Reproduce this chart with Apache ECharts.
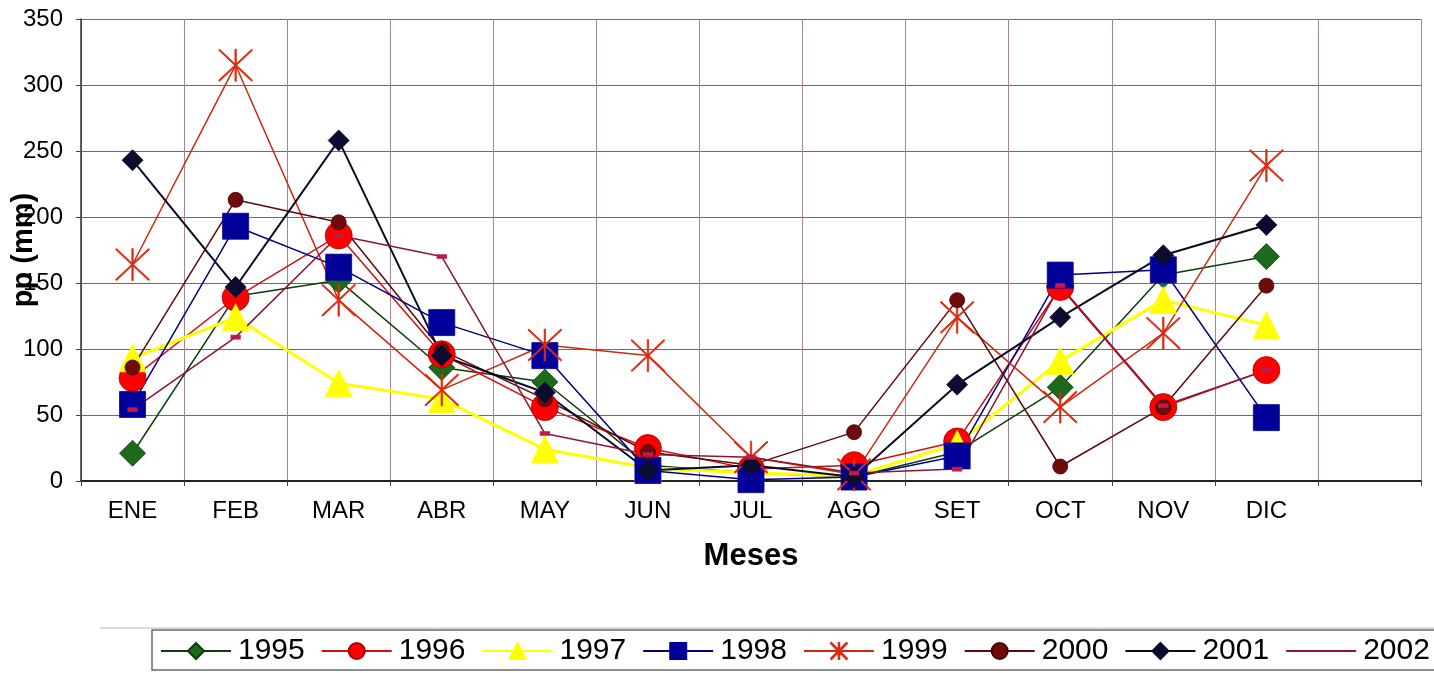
<!DOCTYPE html>
<html>
<head>
<meta charset="utf-8">
<title>Precipitación mensual 1995-2002</title>
<script src="https://cdn.jsdelivr.net/npm/echarts@6/dist/echarts.min.js"></script>
<style>
  html, body { margin: 0; padding: 0; background: #ffffff; }
  #chart { width: 1434px; height: 673px; }
</style>
</head>
<body>
<div id="chart"></div>
<script>
// Months (the last band is left empty, as in the original workbook)
const months = ['ENE', 'FEB', 'MAR', 'ABR', 'MAY', 'JUN', 'JUL', 'AGO', 'SET', 'OCT', 'NOV', 'DIC', ''];
const yTicks = { min: 0, max: 350, interval: 50 };

// Monthly precipitation (mm) per year
const y1995 = [21, 140, 152, 86, 75, 12, 6, 3, 22, 71, 156, 170];
const y1996 = [78, 139, 186, 96, 56, 25, 9, 12, 30, 147, 56, 84];
const y1997 = [93, 124, 74, 62, 24, 10, 6, 4, 28, 91, 137, 118];
const y1998 = [58, 193, 162, 120, 95, 8, 1, 3, 19, 156, 160, 48];
const y1999 = [164, 315, 137, 69, 103, 95, 18, 5, 124, 56, 112, 239];
const y2000 = [86, 213, 196, 99, 62, 22, 12, 37, 137, 11, 56, 148];
const y2001 = [243, 147, 258, 95, 67, 8, 12, 3, 73, 124, 171, 194];
const y2002 = [54, 109, 186, 170, 36, 20, 18, 6, 9, 148, 57, 84];

const FONT = '"Liberation Sans", Arial, sans-serif';

// Excel-style star marker: an X with a vertical stroke
const starPath = 'path://M48 0 L52 0 L52 100 L48 100 Z M3 0 L100 97 L97 100 L0 3 Z M97 0 L100 3 L3 100 L0 97 Z';

function lineSeries(name, data, o) {
  return {
    name: name,
    type: 'line',
    data: data,
    symbol: o.symbol,
    symbolSize: o.size,
    showAllSymbol: true,
    lineStyle: { color: o.line, width: o.width || 1.5 },
    itemStyle: { color: o.fill, borderColor: o.border || o.fill, borderWidth: o.borderWidth || 0.8 },
    emphasis: { disabled: true },
    animation: false,
    z: o.z || 2
  };
}

const series = [
  lineSeries('1995', y1995, { symbol: 'diamond', size: 26, line: '#0b3d0b', fill: '#1d6a1d', border: '#0b3d0b' }),
  lineSeries('1996', y1996, { symbol: 'circle', size: 27, line: '#cc1111', fill: '#ff0000', border: '#b00000' }),
  lineSeries('1997', y1997, { symbol: 'triangle', size: 27, line: '#ffff00', fill: '#ffff00', width: 3 }),
  lineSeries('1998', y1998, { symbol: 'rect', size: 26, line: '#000080', fill: '#000099' }),
  lineSeries('1999', y1999, { symbol: starPath, size: [34, 32], line: '#cc2a10', fill: '#dd2a10', borderWidth: 0 }),
  lineSeries('2000', y2000, { symbol: 'circle', size: 15, line: '#5a0a0a', fill: '#6e0b0b', border: '#4a0000' }),
  lineSeries('2001', y2001, { symbol: 'diamond', size: 21, line: '#0a0a24', fill: '#0c0c30', width: 2 }),
  lineSeries('2002', y2002, { symbol: 'rect', size: [9, 4], line: '#8a1535', fill: '#c01a4a', borderWidth: 0 })
];

const chart = echarts.init(document.getElementById('chart'), null, { renderer: 'canvas' });

chart.setOption({
  backgroundColor: '#ffffff',
  animation: false,
  textStyle: { fontFamily: FONT },
  grid: { left: 81, right: 13, top: 19, bottom: 192, containLabel: false, outerBoundsMode: 'none' },
  xAxis: {
    type: 'category',
    data: months,
    boundaryGap: true,
    name: 'Meses',
    nameLocation: 'middle',
    nameGap: 60,
    nameMoveOverlap: false,
    nameTextStyle: { fontFamily: FONT, fontSize: 31, fontWeight: 'bold', color: '#000' },
    axisLine: { lineStyle: { color: '#222', width: 2 } },
    axisTick: { show: true, length: 5, inside: false, lineStyle: { color: '#444' } },
    axisLabel: { fontFamily: FONT, fontSize: 24, color: '#000', margin: 18, interval: 0 },
    splitLine: { show: true, lineStyle: { color: '#a58494', width: 1 } }
  },
  yAxis: {
    type: 'value',
    min: yTicks.min,
    max: yTicks.max,
    interval: yTicks.interval,
    name: 'pp (mm)',
    nameLocation: 'middle',
    nameRotate: 90,
    nameGap: 43,
    nameMoveOverlap: false,
    nameTextStyle: { fontFamily: FONT, fontSize: 29, fontWeight: 'bold', color: '#000' },
    axisLine: { show: true, lineStyle: { color: '#333', width: 1.5 } },
    axisTick: { show: true, length: 5, lineStyle: { color: '#444' } },
    axisLabel: { fontFamily: FONT, fontSize: 24, color: '#000', margin: 18 },
    splitLine: { show: true, lineStyle: { color: '#6f6870', width: 1 } }
  },
  legend: {
    left: 160,
    top: 636,
    width: 1600,
    padding: 0,
    itemWidth: 70,
    itemHeight: 20,
    itemGap: 16,
    selectedMode: false,
    textStyle: { fontFamily: FONT, fontSize: 30, color: '#000', padding: [0, 0, 0, 2] },
    data: ['1995', '1996', '1997', '1998', '1999', '2000', '2001',
      { name: '2002', itemStyle: { opacity: 0 } }]
  },
  graphic: [
    { type: 'line', silent: true, shape: { x1: 100, y1: 628, x2: 1434, y2: 628 }, style: { stroke: '#b8b8b8', lineWidth: 1 } },
    { type: 'rect', silent: true, shape: { x: 152, y: 630, width: 1300, height: 40 }, style: { fill: null, stroke: '#6a6a6a', lineWidth: 1.5 }, z: -1 }
  ],
  series: series
});
</script>
</body>
</html>
